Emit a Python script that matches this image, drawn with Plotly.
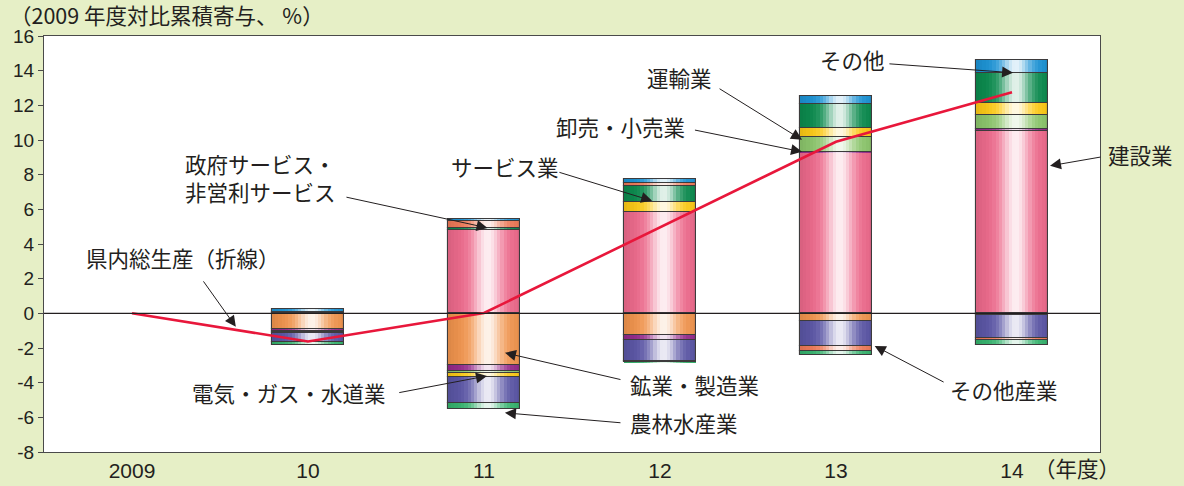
import math
import plotly.graph_objects as go

# ---- data: cumulative contribution vs FY2009 (%) ----
years = ["2009", "10", "11", "12", "13", "14"]

construction = [0, 0, 4.83, 5.87, 9.30, 10.50]        # 建設業
mining_manuf = [0, -0.92, -3.00, -1.27, -0.45, -0.08]  # 鉱業・製造業
wholesale = [0, -0.08, -0.30, -0.28, 0.03, 0.12]       # 卸売・小売業
transport = [0, -0.08, -0.15, 0, 0.82, 0.83]           # 運輸業
utilities = [0, -0.08, -0.25, 0.58, 0.56, 0.70]        # 電気・ガス・水道業
other_ind = [0, -0.52, -1.45, -1.20, -1.42, -1.35]     # その他産業
services = [0, 0.10, 0.12, 0.92, 1.37, 1.70]           # サービス業
government = [0, 0, 0.40, 0.15, -0.30, -0.12]          # 政府サービス・非営利サービス
others = [0, 0.14, 0.10, 0.25, 0.45, 0.77]             # その他
agriculture = [0, -0.12, -0.35, -0.07, -0.25, -0.28]   # 農林水産業

gdp_total = [0, -1.62, 0.02, 4.95, 9.90, 12.75]        # 県内総生産（折線）

y_ticks = [-8, -6, -4, -2, 0, 2, 4, 6, 8, 10, 12, 14, 16]
y_tick_text = ["-8", "-6", "-4", "-2", "0", "2", "4", "6", "8", "10", "12", "14", "16"]

# stacking order (bottom-up for positives, top-down for negatives) and colours
stack = [
    ("建設業", construction, "#ee6a8c"),
    ("鉱業・製造業", mining_manuf, "#f2954e"),
    ("卸売・小売業", wholesale, "#952a8b"),
    ("運輸業", transport, "#8cc66c"),
    ("電気・ガス・水道業", utilities, "#fdca16"),
    ("その他産業", other_ind, "#5b56a6"),
    ("サービス業", services, "#0b8b4e"),
    ("政府サービス・非営利サービス", government, "#ef7a58"),
    ("その他", others, "#1c93d5"),
    ("農林水産業", agriculture, "#36b46e"),
]

BAR_W = 0.41
N_STRIPS = 22


def hex_rgb(h):
    h = h.lstrip("#")
    return tuple(int(h[i:i + 2], 16) for i in (0, 2, 4))


def shade(hex_color, t):
    """Cylinder-like shading: saturated edges, near-white highlight in the middle."""
    r, g, b = hex_rgb(hex_color)
    hl = 0.88 * math.exp(-((t - 0.55) / 0.2) ** 2)
    edge = 0.10 * (abs(t - 0.55) / 0.55) ** 3

    def mix(c):
        c = c * (1 - edge)
        return int(round(c + (255 - c) * hl))
    return f"rgb({mix(r)},{mix(g)},{mix(b)})"


# bases for relative stacking
pos_cum = [0.0] * len(years)
neg_cum = [0.0] * len(years)
bases = []
for name, vals, col in stack:
    b = []
    for i, v in enumerate(vals):
        if v >= 0:
            b.append(pos_cum[i])
            pos_cum[i] += v
        else:
            b.append(neg_cum[i])
            neg_cum[i] += v
    bases.append(b)

xs = list(range(len(years)))
fig = go.Figure()

step = BAR_W / N_STRIPS
for (name, vals, col), b in zip(stack, bases):
    for k in range(N_STRIPS):
        t = (k + 0.5) / N_STRIPS
        w = step * 1.6 if k < N_STRIPS - 1 else step
        fig.add_trace(go.Bar(
            x=xs, y=vals, base=b, width=w, offset=-BAR_W / 2 + k * step,
            marker=dict(color=shade(col, t), line=dict(width=0)),
            hoverinfo="skip", showlegend=False, name=name,
        ))

# segment outlines
for (name, vals, col), b in zip(stack, bases):
    fig.add_trace(go.Bar(
        x=xs, y=[v if v != 0 else None for v in vals], base=b,
        width=BAR_W, offset=-BAR_W / 2,
        marker=dict(color="rgba(0,0,0,0)", line=dict(color="#3d3b3c", width=1.1)),
        hoverinfo="skip", showlegend=False, name=name,
    ))

fig.add_trace(go.Scatter(
    x=xs, y=gdp_total, mode="lines",
    line=dict(color="#e8173b", width=2.6),
    showlegend=False, name="県内総生産",
))

JP = "Noto Sans CJK JP"
ann_font = dict(family=JP, size=21.5, color="#231f20")
annotations = []

# callout labels: (text, text x, text y, tail x, tail y, tip x, tip y)
callouts = [
    ("政府サービス・<br>非営利サービス", 0.29, 7.82, 1.21, 6.72, 2.02, 4.93),
    ("県内総生産（折線）", -0.27, 3.2, 0.40, 1.93, 0.59, -0.78),
    ("サービス業", 1.80, 8.45, 2.42, 8.16, 2.955, 6.49),
    ("卸売・小売業", 2.40, 10.76, 3.19, 10.59, 3.807, 9.32),
    ("運輸業", 2.915, 13.59, 3.33, 13.01, 3.807, 10.01),
    ("その他", 3.898, 14.63, 4.295, 14.40, 5.006, 13.88),
    ("その他産業", 4.636, -4.41, 4.62, -4.01, 4.22, -1.88),
    ("鉱業・製造業", 2.818, -4.13, 2.784, -3.84, 2.119, -2.28),
    ("電気・ガス・水道業", 0.33, -4.59, 1.51, -4.59, 2.017, -3.61),
    ("農林水産業", 2.818, -6.32, 2.784, -6.32, 2.119, -5.74),
]
for text, tx, ty, ax, ay, px, py in callouts:
    annotations.append(dict(
        x=tx, y=ty, xref="x", yref="y", text=text, showarrow=False,
        xanchor="left", yanchor="middle", align="left", font=ann_font,
    ))
    annotations.append(dict(
        x=px, y=py, xref="x", yref="y", ax=ax, ay=ay, axref="x", ayref="y",
        text="", showarrow=True, arrowhead=2, arrowsize=2.2, arrowwidth=1,
        arrowcolor="#231f20",
    ))

# label sitting right of the plot area
annotations.append(dict(
    x=1.006, y=9.15, xref="paper", yref="y", text="建設業", showarrow=False,
    xanchor="left", yanchor="middle", font=ann_font,
))
annotations.append(dict(
    x=5.216, y=8.51, xref="x", yref="y", ax=5.511, ay=9.03, axref="x", ayref="y",
    text="", showarrow=True, arrowhead=2, arrowsize=2.2, arrowwidth=1,
    arrowcolor="#231f20",
))

annotations.append(dict(
    x=-0.034, y=1.052, xref="paper", yref="paper", text="（2009 年度対比累積寄与、 %）",
    showarrow=False, xanchor="left", yanchor="middle", font=ann_font,
))
annotations.append(dict(
    x=0.936, y=-0.037, xref="paper", yref="paper", text="（年度）",
    showarrow=False, xanchor="left", yanchor="middle", font=ann_font,
))

fig.update_layout(
    width=1184, height=486,
    margin=dict(l=44, r=84, t=36, b=34),
    paper_bgcolor="#e6efc6",
    plot_bgcolor="#ffffff",
    barmode="overlay",
    bargap=0,
    annotations=annotations,
    shapes=[dict(type="line", xref="paper", yref="y", x0=0, x1=1, y0=0, y1=0,
                 line=dict(color="#231f20", width=1.2), layer="above")],
    xaxis=dict(
        range=[-0.5, 5.5], tickmode="array", tickvals=xs, ticktext=years,
        showgrid=False, zeroline=False, showline=True, mirror=True,
        linecolor="#4a4a4a", linewidth=1.2, ticks="", automargin=False,
        tickfont=dict(family="Liberation Sans Narrow, Liberation Sans", size=21, color="#231f20"),
    ),
    yaxis=dict(
        range=[-8, 16], tickmode="array", tickvals=y_ticks, ticktext=y_tick_text,
        showgrid=False, zeroline=False, showline=True, mirror=True,
        linecolor="#4a4a4a", linewidth=1.2, ticks="outside", ticklen=5,
        tickcolor="#4a4a4a", automargin=False,
        tickfont=dict(family="Liberation Sans", size=19, color="#231f20"),
    ),
)

fig.write_html("out.html")
